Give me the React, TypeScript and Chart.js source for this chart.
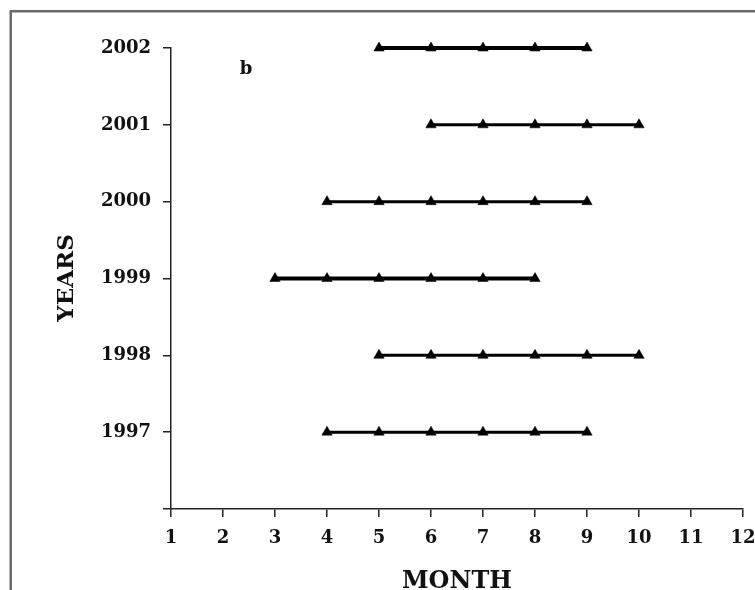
import React, { useEffect, useRef } from "react";
import { Chart, registerables } from "chart.js";

Chart.register(...registerables);

const years = [1997, 1998, 1999, 2000, 2001, 2002];
const months1997 = [4, 5, 6, 7, 8, 9];
const months1998 = [5, 6, 7, 8, 9, 10];
const months1999 = [3, 4, 5, 6, 7, 8];
const months2000 = [4, 5, 6, 7, 8, 9];
const months2001 = [6, 7, 8, 9, 10];
const months2002 = [5, 6, 7, 8, 9];
const monthsByYear = [months1997, months1998, months1999, months2000, months2001, months2002];
const lineWidths = [3, 3, 4, 3, 3, 4];
const xTicks = [1, 2, 3, 4, 5, 6, 7, 8, 9, 10, 11, 12];
const yTicks = [1996, 1997, 1998, 1999, 2000, 2001, 2002];

const FONT = "'DejaVu Serif', 'Liberation Serif', serif";

const decorPlugin = {
  id: "decor",
  beforeDraw(chart: any) {
    const ctx = chart.ctx;
    ctx.save();
    ctx.fillStyle = "#ffffff";
    ctx.fillRect(0, 0, chart.width, chart.height);
    ctx.strokeStyle = "#6a6a6a";
    ctx.lineWidth = 2.5;
    ctx.strokeRect(10.75, 11.25, 900, 900);
    ctx.restore();
  },
  afterDraw(chart: any) {
    const ctx = chart.ctx;
    const area = chart.chartArea;
    ctx.save();
    ctx.fillStyle = "#111";
    ctx.textAlign = "center";
    ctx.textBaseline = "middle";
    ctx.font = `bold 24px ${FONT}`;
    ctx.fillText("MONTH", (area.left + area.right) / 2, 582);
    ctx.save();
    ctx.translate(67, 278);
    ctx.rotate(-Math.PI / 2);
    ctx.font = `bold 23px ${FONT}`;
    ctx.fillText("YEARS", 0, 0);
    ctx.restore();
    ctx.font = `bold 18px ${FONT}`;
    ctx.fillText("b", 246, 69);
    ctx.restore();
  },
};

export default function App() {
  const ref = useRef<HTMLCanvasElement | null>(null);
  useEffect(() => {
    document.body.style.margin = "0";
    const datasets = years.map((yr, i) => ({
      label: String(yr),
      data: monthsByYear[i].map((m) => ({ x: m, y: yr })),
      borderColor: "#000",
      backgroundColor: "#000",
      borderWidth: lineWidths[i],
      pointStyle: "triangle" as const,
      pointRadius: 6,
      pointBorderWidth: 0.5,
      pointBackgroundColor: "#000",
      pointBorderColor: "#000",
      showLine: true,
      fill: false,
      clip: false as const,
    }));
    const chart = new Chart(ref.current!, {
      type: "line",
      data: { datasets },
      options: {
        animation: false,
        responsive: false,
        devicePixelRatio: 1,
        layout: { padding: { left: 0, top: 48, right: 12, bottom: 0 } },
        plugins: { legend: { display: false }, tooltip: { enabled: false } },
        scales: {
          x: {
            type: "linear",
            min: 1,
            max: 12,
            afterBuildTicks: (s: any) => {
              s.ticks = xTicks.map((v) => ({ value: v }));
            },
            afterFit: (s: any) => {
              s.height = 81;
              s.paddingLeft = 0;
              s.paddingRight = 0;
            },
            ticks: {
              color: "#111",
              font: { family: FONT, weight: "bold", size: 18 },
              padding: 11,
              maxRotation: 0,
              autoSkip: false,
            },
            grid: {
              drawOnChartArea: false,
              drawTicks: true,
              tickLength: 8,
              color: "#222",
              lineWidth: 1.5,
            },
            border: { display: true, color: "#222", width: 1.5 },
          },
          y: {
            type: "linear",
            min: 1996,
            max: 2002,
            afterBuildTicks: (s: any) => {
              s.ticks = yTicks.map((v) => ({ value: v }));
            },
            afterFit: (s: any) => {
              s.width = 171;
              s.paddingTop = 0;
              s.paddingBottom = 0;
            },
            ticks: {
              color: "#111",
              font: { family: FONT, weight: "bold", size: 18 },
              padding: 12,
              autoSkip: false,
              callback: (v: any) => (v === 1996 ? "" : String(v)),
            },
            grid: {
              drawOnChartArea: false,
              drawTicks: true,
              tickLength: 8,
              color: "#222",
              lineWidth: 1.5,
            },
            border: { display: true, color: "#222", width: 1.5 },
          },
        },
      },
      plugins: [decorPlugin],
    });
    return () => chart.destroy();
  }, []);
  return (
    <div style={{ width: 755, height: 590 }}>
      <canvas ref={ref} width={755} height={590} style={{ display: "block" }} />
    </div>
  );
}
